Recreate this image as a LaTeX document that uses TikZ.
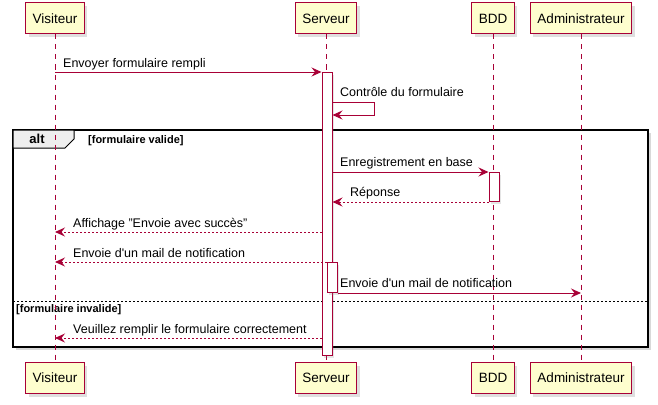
\documentclass[tikz,border=0pt]{standalone}
\usepackage{fontspec}
\setmainfont{Liberation Sans}
\usepackage{xcolor}
\usepackage{tikz}
\usetikzlibrary{shadows}
\usetikzlibrary{shapes,arrows.meta,positioning}

\definecolor{umlred}{HTML}{A80036}
\definecolor{umlfill}{HTML}{FEFECE}
\definecolor{altgray}{HTML}{EEEEEE}

\begin{document}
\begin{tikzpicture}[x=1pt,y=-1pt,
      participant/.style={draw=umlred, fill=umlfill, line width=1pt,
        minimum height=31pt, inner xsep=7pt,
        font=\fontsize{13.5}{16}\selectfont,
        drop shadow={shadow xshift=3pt,shadow yshift=-3pt,opacity=.25}},
      lifeline/.style={umlred, line width=1pt, dash pattern=on 5pt off 5pt},
      activation/.style={draw=umlred, fill=white, line width=1pt,
        minimum width=10pt, inner sep=0pt, anchor=north,
        drop shadow={shadow xshift=2pt,shadow yshift=-2pt,opacity=.2}},
      msg/.style={umlred, line width=1pt,
        -{Stealth[length=10pt,width=9pt,inset=3.5pt]}},
      reply/.style={msg, dash pattern=on 2pt off 2pt},
      msglabel/.style={anchor=base west, inner sep=0pt,
        font=\fontsize{12.5}{15}\selectfont},
      guard/.style={anchor=base west, inner sep=0pt,
        font=\fontsize{11}{13}\selectfont\bfseries}]
  \useasboundingbox (0,0) rectangle (658,404);

  % alt frame
  \draw[line width=1.5pt, fill=white,
    drop shadow={shadow xshift=3pt,shadow yshift=-3pt,opacity=.3}]
    (13,130) rectangle (648,347);
  \draw[line width=1pt, fill=altgray]
    (13,130) -- (74,130) -- (74,139) -- (65,148) -- (13,148) -- cycle;
  \node[anchor=base, inner sep=0pt, font=\fontsize{13}{15}\selectfont\bfseries]
    (alt) at (37,143.5) {alt};
  \node[guard] (valid) at (88,143.5) {[formulaire valide]};
  \draw[line width=1pt, dash pattern=on 2pt off 2pt] (13,301) -- (648,301);
  \node[guard] (invalid) at (16,312.5) {[formulaire invalide]};

  % participants
  \node[participant] (vtop) at (55,18.5) {Visiteur};
  \node[participant] (stop) at (326,18.5) {Serveur};
  \node[participant] (btop) at (493,18.5) {BDD};
  \node[participant] (atop) at (581,18.5) {Administrateur};
  \node[participant] (vbot) at (55,378) {Visiteur};
  \node[participant] (sbot) at (326,378) {Serveur};
  \node[participant] (bbot) at (493,378) {BDD};
  \node[participant] (abot) at (581,378) {Administrateur};

  \draw[lifeline] (vtop) -- (vbot);
  \draw[lifeline] (stop) -- (sbot);
  \draw[lifeline] (btop) -- (bbot);
  \draw[lifeline] (atop) -- (abot);

  % activations
  \node[activation, minimum height=283pt] (sact) at (327,72) {};
  \node[activation, minimum height=29pt] (bact) at (494,172) {};
  \node[activation, minimum height=30pt] (s2act) at (332,262) {};

  % messages
  \draw[msg] (vtop |- sact.north) -- (sact.north west);
  \node[msglabel] (l1) at (63,67) {Envoyer formulaire rempli};

  \draw[msg] (sact.east |- 0,102) -- ++(42,0) -- ++(0,13) -- (sact.east |- 0,115);
  \node[msglabel] (l2) at (340,96.5) {Contrôle du formulaire};

  \draw[msg] (sact.east |- bact.north) -- (bact.north west);
  \node[msglabel] (l3) at (340,166.5) {Enregistrement en base};

  \draw[reply] (bact.south west) -- (sact.east |- bact.south);
  \node[msglabel] (l4) at (350,196) {Réponse};

  \draw[reply] (sact.west |- 0,232) -- (vtop |- 0,232);
  \node[msglabel] (l5) at (73,227) {Affichage "Envoie avec succès"};

  \draw[reply] (s2act.north west) -- (vtop |- s2act.north);
  \node[msglabel] (l6) at (73,257) {Envoie d\textquotesingle un mail de notification};

  \draw[msg] (s2act.south east) -- (atop |- s2act.south);
  \node[msglabel] (l7) at (340,287) {Envoie d\textquotesingle un mail de notification};

  \draw[reply] (sact.west |- 0,338) -- (vtop |- 0,338);
  \node[msglabel] (l8) at (73,333) {Veuillez remplir le formulaire correctement};
\end{tikzpicture}
\end{document}
